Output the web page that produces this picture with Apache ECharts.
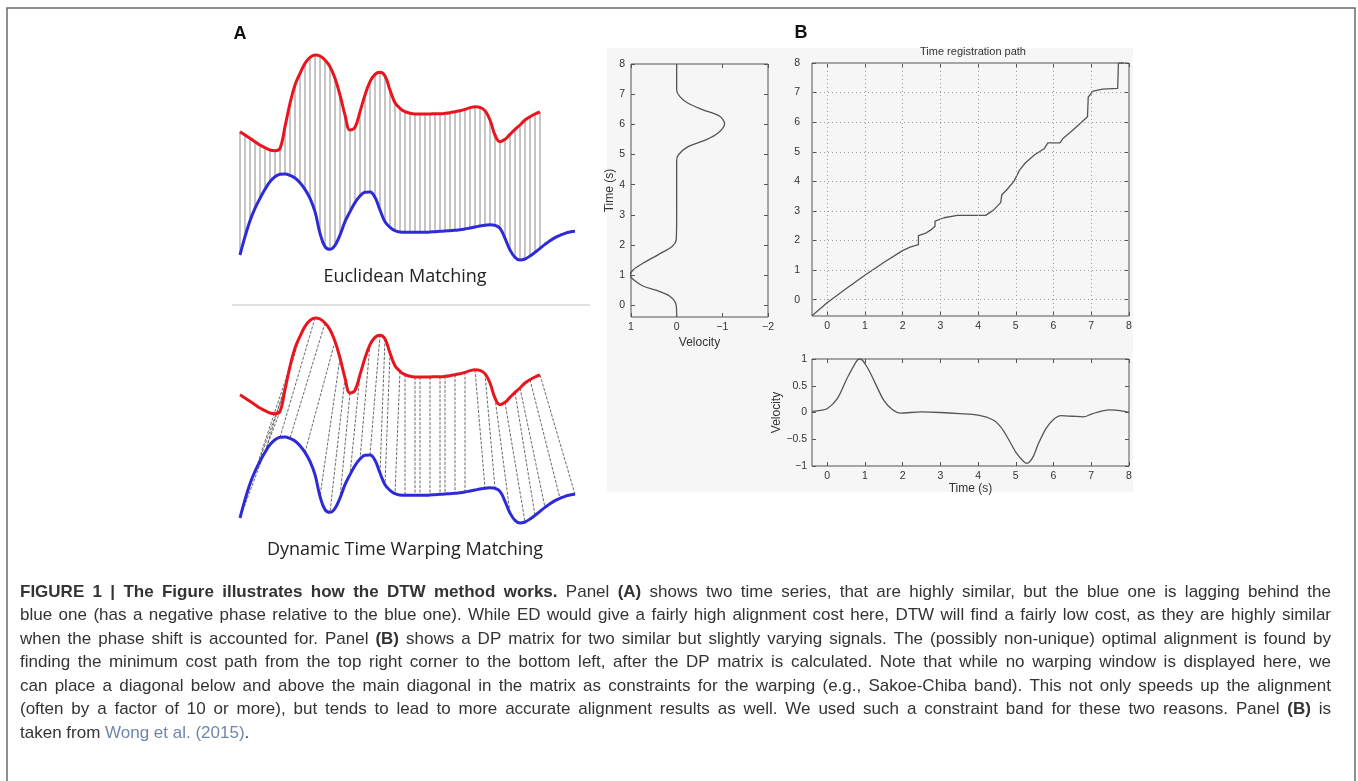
<!DOCTYPE html>
<html>
<head>
<meta charset="utf-8">
<script src="https://cdn.jsdelivr.net/npm/echarts@6/dist/echarts.min.js"></script>
<style>
html,body{margin:0;padding:0;background:#fff}
#chart{width:1358px;height:781px}
</style>
</head>
<body>
<div id="chart"></div>
<script>
// ---- Panel A: two signals sampled at evenly spaced positions (arbitrary amplitude units) ----
const redSignal = [415,405,395,385,375,367,360,358,365,430,500,555,590,620,638,645,642,630,610,575,
  525,465,420,428,475,525,565,587,593,582,540,502,485,475,470,468,468,468,468,469,
  469,470,472,475,478,482,487,490,488,478,450,405,385,392,407,422,435,450,460,468,474];
const blueSignal = [45,100,148,185,215,242,265,280,287,288,284,276,262,242,215,175,110,70,62,74,
  105,145,175,202,222,233,234,218,180,145,128,118,114,113,113,113,113,113,114,115,
  116,117,118,119,121,123,126,129,132,134,136,134,125,95,60,38,30,33,42,53,
  65,77,88,97,104,110,114,116];
// DTW correspondences: [red sample index, blue sample index]
const dtwPairs = [[8,0],[9,1],[10,3],[12,5],[15,8],[17,10],[19,13],[20,16],[21,18],[22,20],
  [24,22],[26,24],[28,26],[29,28],[30,29],[32,31],[33,33],[35,35],[36,36],[38,38],
  [40,40],[41,41],[43,43],[45,45],[47,49],[49,51],[51,54],[53,57],[55,59],[56,61],[58,64],[60,67]];

// ---- Panel B ----
// reference velocity profile, plotted with time on the vertical axis
const refTime = [-0.39,0,0.3,0.5,0.63,0.85,1.0,1.18,1.4,1.68,1.95,2.17,3,4,4.8,4.99,5.26,5.49,5.7,6.02,6.26,6.48,6.7,6.92,7.14,8];
const refVelocity = [0,0.01,0.15,0.45,0.73,0.95,1.02,0.95,0.73,0.4,0.1,0.01,0,0,0,-0.04,-0.25,-0.65,-0.9,-1.05,-0.95,-0.58,-0.25,-0.07,0,0];
// second velocity profile against time
const queryTime = [-0.4,-0.18,0,0.27,0.53,0.8,0.88,1.06,1.28,1.5,1.72,1.94,2.5,3,3.5,4,4.4,4.6,4.8,5,5.2,5.3,5.45,5.6,5.8,6,6.2,6.5,6.8,7,7.3,7.5,7.8,8];
const queryVelocity = [0.02,0.04,0.07,0.26,0.64,0.98,1.0,0.85,0.54,0.23,0.06,-0.01,0.01,0,-0.02,-0.05,-0.14,-0.27,-0.49,-0.74,-0.91,-0.95,-0.84,-0.58,-0.3,-0.13,-0.06,-0.07,-0.08,-0.03,0.03,0.05,0.03,0];
// optimal warping path
const pathX = [-0.4,0,0.5,1,1.5,2,2.2,2.42,2.42,2.6,2.75,2.86,2.86,3.1,3.45,4.2,4.4,4.6,4.63,4.75,4.95,5.1,5.25,5.5,5.75,5.85,6.17,6.25,6.5,6.9,6.92,7.05,7.3,7.7,7.72,7.87];
const pathY = [-0.54,-0.1,0.37,0.83,1.26,1.66,1.78,1.86,2.17,2.24,2.36,2.48,2.66,2.77,2.85,2.85,3.02,3.28,3.55,3.7,4.0,4.38,4.62,4.9,5.1,5.3,5.3,5.45,5.72,6.18,6.85,7.05,7.12,7.14,8.0,8.0];
const timeTicks = [0,1,2,3,4,5,6,7,8];
const gridLineTicks = [0,1,2,3,4,5,6,7];

// ---- caption ----
const captionLines = [
  [['b','FIGURE 1 | The Figure illustrates how the DTW method works.'],['n',' Panel '],['b','(A)'],['n',' shows two time series, that are highly similar, but the blue one is lagging behind the']],
  [['n','blue one (has a negative phase relative to the blue one). While ED would give a fairly high alignment cost here, DTW will find a fairly low cost, as they are highly similar']],
  [['n','when the phase shift is accounted for. Panel '],['b','(B)'],['n',' shows a DP matrix for two similar but slightly varying signals. The (possibly non-unique) optimal alignment is found by']],
  [['n','finding the minimum cost path from the top right corner to the bottom left, after the DP matrix is calculated. Note that while no warping window is displayed here, we']],
  [['n','can place a diagonal below and above the main diagonal in the matrix as constraints for the warping (e.g., Sakoe-Chiba band). This not only speeds up the alignment']],
  [['n','(often by a factor of 10 or more), but tends to lead to more accurate alignment results as well. We used such a constraint band for these two reasons. Panel '],['b','(B)'],['n',' is']],
  [['n','taken from '],['l','Wong et al. (2015)'],['n','.']]
];

const RED = '#e8151f', BLUE = '#2f2ad8', INK = '#333', AXIS = '#555';
const AX_FONT = '"Liberation Sans", Arial, sans-serif';
const minus = v => String(v).replace('-', '\u2212');

// ---- helpers ----
function connectorSeries(gridIdx, pairs, style) {
  return {
    type: 'custom', xAxisIndex: gridIdx, yAxisIndex: gridIdx, silent: true, z: 1,
    data: pairs.map(([i, j]) => [i, redSignal[i], j, blueSignal[j]]),
    encode: { x: [0, 2], y: [1, 3] },
    renderItem(params, api) {
      const a = api.coord([api.value(0), api.value(1)]);
      const b = api.coord([api.value(2), api.value(3)]);
      return { type: 'line', shape: { x1: a[0], y1: a[1], x2: b[0], y2: b[1] }, style: style };
    }
  };
}
function signalSeries(gridIdx, values, color) {
  return {
    type: 'line', xAxisIndex: gridIdx, yAxisIndex: gridIdx, z: 3, silent: true,
    data: values.map((v, i) => [i, v]), showSymbol: false, smooth: 0.4,
    lineStyle: { color: color, width: 3 }
  };
}
function hiddenAxis(gridIdx, max) {
  return { type: 'value', gridIndex: gridIdx, min: 0, max: max, show: false };
}
function tickAxis(gridIdx, pos, min, max, ticks, opts) {
  opts = opts || {};
  const ax = {
    type: 'value', gridIndex: gridIdx, position: pos, min: min, max: max,
    inverse: !!opts.inverse,
    axisLine: { show: false, onZero: false },
    axisTick: { show: true, inside: true, length: 4, lineStyle: { color: AXIS } },
    axisLabel: { show: !!opts.labels, color: INK, fontSize: 10.5, fontFamily: AX_FONT, margin: opts.margin || 5, formatter: minus },
    splitLine: { show: false }
  };
  if (opts.interval) { ax.interval = opts.interval; }
  else { ax.axisTick.customValues = ticks; ax.axisLabel.customValues = ticks; }
  if (opts.name) {
    ax.name = opts.name; ax.nameLocation = 'middle'; ax.nameGap = opts.nameGap;
    ax.nameTextStyle = { color: INK, fontSize: 12, fontFamily: AX_FONT };
  }
  return ax;
}

// justified caption, one text element per word piece
const CAP_SIZE = 17, CAP_FONT = '"Liberation Sans", Arial, sans-serif';
const CAP_LEFT = 20, CAP_RIGHT = 1331, CAP_TOP = 592, CAP_STEP = 23.5;
const mctx = document.createElement('canvas').getContext('2d');
const capFont = s => (s === 'b' ? 'bold ' : '') + CAP_SIZE + 'px ' + CAP_FONT;
function pieceWidth(s, t) { mctx.font = capFont(s); return mctx.measureText(t).width; }
function toWords(segs) {
  const words = []; let cur = [];
  segs.forEach(([s, t]) => {
    t.split(' ').forEach((part, i) => {
      if (i > 0) { if (cur.length) words.push(cur); cur = []; }
      if (part) cur.push([s, part]);
    });
  });
  if (cur.length) words.push(cur);
  return words;
}
const captionGraphics = [];
captionLines.forEach((segs, li) => {
  const words = toWords(segs);
  const widths = words.map(w => w.reduce((a, [s, t]) => a + pieceWidth(s, t), 0));
  const total = widths.reduce((a, b) => a + b, 0);
  const last = li === captionLines.length - 1;
  const gap = last ? pieceWidth('n', ' ') : (CAP_RIGHT - CAP_LEFT - total) / (words.length - 1);
  let x = CAP_LEFT;
  const y = CAP_TOP + li * CAP_STEP;
  words.forEach((w) => {
    w.forEach(([s, t]) => {
      captionGraphics.push({
        type: 'text', x: x, y: y, silent: true,
        style: { text: t, font: capFont(s), fill: s === 'l' ? '#6f86a6' : INK,
                 verticalAlign: 'middle', textVerticalAlign: 'middle' }
      });
      x += pieceWidth(s, t);
    });
    x += gap;
  });
});

const chart = echarts.init(document.getElementById('chart'), null, { renderer: 'canvas' });
const frame = { show: true, borderColor: AXIS, borderWidth: 1, backgroundColor: 'transparent' };

chart.setOption({
  animation: false,
  backgroundColor: '#fff',
  title: {
    text: 'Time registration path', left: 968, top: 41, textAlign: 'center',
    textStyle: { color: INK, fontSize: 11, fontWeight: 'normal', fontFamily: AX_FONT }
  },
  grid: [
    { left: 240, top: 40, width: 335, height: 230 },
    { left: 240, top: 303, width: 335, height: 230 },
    Object.assign({ left: 631, top: 64, width: 137, height: 253 }, frame),
    Object.assign({ left: 812, top: 63, width: 317, height: 253 }, frame),
    Object.assign({ left: 812, top: 359, width: 317, height: 107 }, frame)
  ],
  xAxis: [
    hiddenAxis(0, 67),
    hiddenAxis(1, 67),
    tickAxis(2, 'bottom', -2, 1, null, { inverse: true, interval: 1, labels: true, name: 'Velocity', nameGap: 20 }),
    tickAxis(3, 'bottom', -0.4, 8, timeTicks, { labels: true }),
    tickAxis(4, 'bottom', -0.4, 8, timeTicks, { labels: true, name: 'Time (s)', nameGap: 13 }),
    tickAxis(2, 'top', -2, 1, null, { inverse: true, interval: 1 }),
    tickAxis(3, 'top', -0.4, 8, timeTicks),
    tickAxis(4, 'top', -0.4, 8, timeTicks)
  ],
  yAxis: [
    hiddenAxis(0, 690),
    hiddenAxis(1, 690),
    tickAxis(2, 'left', -0.39, 8, timeTicks, { labels: true, margin: 6, name: 'Time (s)', nameGap: 13 }),
    tickAxis(3, 'left', -0.55, 8, timeTicks, { labels: true, margin: 12 }),
    tickAxis(4, 'left', -1, 1, null, { interval: 0.5, labels: true, name: 'Velocity', nameGap: 28 }),
    tickAxis(2, 'right', -0.39, 8, timeTicks),
    tickAxis(3, 'right', -0.55, 8, timeTicks),
    tickAxis(4, 'right', -1, 1, null, { interval: 0.5 })
  ],
  series: [
    connectorSeries(0, redSignal.map((v, i) => [i, i]), { stroke: '#8c8c8c', lineWidth: 1 }),
    signalSeries(0, redSignal, RED),
    signalSeries(0, blueSignal, BLUE),
    connectorSeries(1, dtwPairs, { stroke: '#444', lineWidth: 0.8, lineDash: [3, 1.5] }),
    signalSeries(1, redSignal, RED),
    signalSeries(1, blueSignal, BLUE),
    {
      type: 'line', xAxisIndex: 2, yAxisIndex: 2, silent: true, showSymbol: false, smooth: 0.3,
      data: refTime.map((t, i) => [refVelocity[i], t]),
      lineStyle: { color: '#555', width: 1.3 }
    },
    {
      type: 'line', xAxisIndex: 3, yAxisIndex: 3, silent: true, showSymbol: false,
      data: pathX.map((x, i) => [x, pathY[i]]),
      lineStyle: { color: '#555', width: 1.3 },
      markLine: {
        silent: true, symbol: 'none', animation: false, label: { show: false },
        lineStyle: { color: '#9a9a9a', type: [1, 3], width: 1 },
        emphasis: { disabled: true },
        data: gridLineTicks.map(v => ({ xAxis: v })).concat(gridLineTicks.map(v => ({ yAxis: v })))
      }
    },
    {
      type: 'line', xAxisIndex: 4, yAxisIndex: 4, silent: true, showSymbol: false, smooth: 0.3,
      data: queryTime.map((t, i) => [t, queryVelocity[i]]),
      lineStyle: { color: '#555', width: 1.3 }
    }
  ],
  graphic: [
    { type: 'rect', z: -10, silent: true, shape: { x: 607, y: 48, width: 526, height: 444 }, style: { fill: '#f6f6f6' } },
    { type: 'polyline', silent: true, shape: { points: [[7, 781], [7, 8], [1355, 8], [1355, 781]] },
      style: { stroke: '#6a6a6a', lineWidth: 1.5, fill: null } },
    { type: 'line', silent: true, shape: { x1: 232, y1: 305, x2: 590, y2: 305 }, style: { stroke: '#e0e0e0', lineWidth: 2 } },
    { type: 'text', x: 240, y: 34, silent: true,
      style: { text: 'A', font: 'bold 18px "Liberation Sans", Arial', fill: '#111', align: 'center', textAlign: 'center', verticalAlign: 'middle', textVerticalAlign: 'middle' } },
    { type: 'text', x: 801, y: 33, silent: true,
      style: { text: 'B', font: 'bold 18px "Liberation Sans", Arial', fill: '#111', align: 'center', textAlign: 'center', verticalAlign: 'middle', textVerticalAlign: 'middle' } },
    { type: 'text', x: 405, y: 277, silent: true,
      style: { text: 'Euclidean Matching', font: '18px "Open Sans", sans-serif', fill: '#222', align: 'center', textAlign: 'center', verticalAlign: 'middle', textVerticalAlign: 'middle' } },
    { type: 'text', x: 405, y: 550, silent: true,
      style: { text: 'Dynamic Time Warping Matching', font: '18px "Open Sans", sans-serif', fill: '#222', align: 'center', textAlign: 'center', verticalAlign: 'middle', textVerticalAlign: 'middle' } }
  ].concat(captionGraphics)
});
</script>
</body>
</html>
